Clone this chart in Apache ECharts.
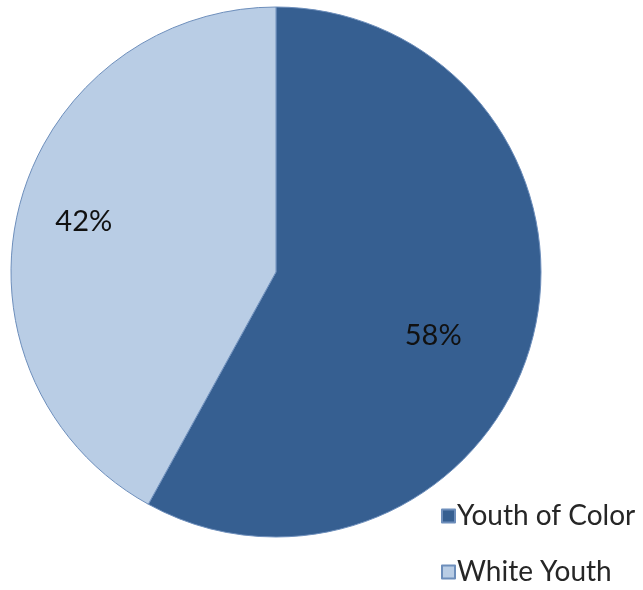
<!DOCTYPE html>
<html>
<head>
<meta charset="utf-8">
<script src="https://cdn.jsdelivr.net/npm/echarts@6/dist/echarts.min.js"></script>
<style>
html,body{margin:0;padding:0;background:#fff;}
#chart{width:643px;height:590px;}
</style>
</head>
<body>
<div id="chart"></div>
<script>
var categories = ['Youth of Color', 'White Youth'];
var values = [58, 42];
var colors = ['#365f91', '#b9cde5'];
var labelOffsets = [[26, 30], [-61, -17]];
var legendTops = [502, 558];

var chart = echarts.init(document.getElementById('chart'));
var data = categories.map(function (c, i) {
  return {
    name: c,
    value: values[i],
    itemStyle: { color: colors[i] },
    label: { offset: labelOffsets[i] }
  };
});
var legends = categories.map(function (c, i) {
  return {
    orient: 'vertical',
    left: 441,
    top: legendTops[i],
    padding: 0,
    itemWidth: 13,
    itemHeight: 13,
    itemGap: 0,
    icon: 'rect',
    data: [c],
    textStyle: {
      fontFamily: 'Lato, "Noto Sans", sans-serif',
      fontSize: 28,
      color: '#262626',
      lineHeight: 28,
      padding: [0, 0, 0, -3]
    }
  };
});
chart.setOption({
  animation: false,
  legend: legends,
  series: [{
    type: 'pie',
    center: [276, 272],
    radius: 265,
    startAngle: 90,
    clockwise: true,
    data: data,
    itemStyle: { borderColor: '#6d8ebb', borderWidth: 1 },
    label: {
      show: true,
      position: 'inside',
      formatter: '{c}%',
      fontFamily: 'Lato, "Noto Sans", sans-serif',
      fontSize: 29,
      color: '#111'
    },
    labelLine: { show: false },
    emphasis: { disabled: true }
  }]
});
</script>
</body>
</html>
